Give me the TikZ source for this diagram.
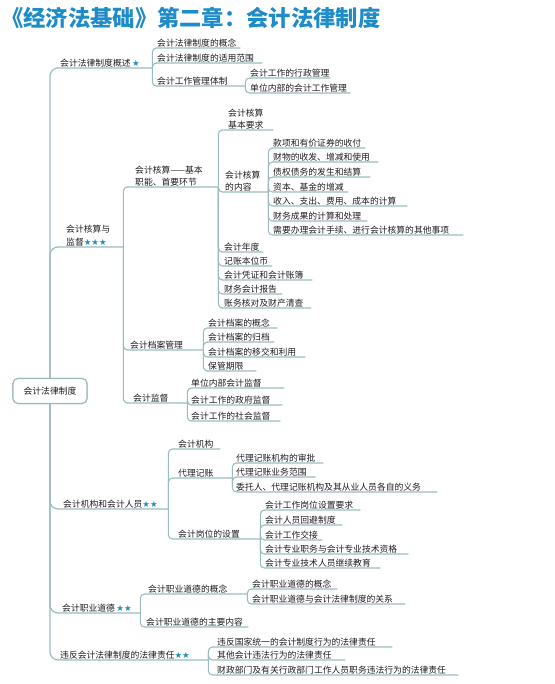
\documentclass[tikz,border=0pt]{standalone}
\usepackage{fontspec}
\setmainfont{Noto Sans CJK SC}
\newfontfamily\starfont{DejaVu Sans}
\definecolor{linec}{RGB}{155,188,190}
\definecolor{txtc}{RGB}{30,30,30}
\definecolor{starc}{RGB}{35,140,190}
\definecolor{titlec}{RGB}{30,140,200}
\newcommand\mystars[1]{{\starfont\fontsize{8.5}{8.5}\selectfont\color{starc}#1}}
\begin{document}
\begin{tikzpicture}[x=1pt,y=-1pt,
  lbl/.style={anchor=south west, inner xsep=0pt, inner ysep=1pt, align=left,
    font=\fontsize{8.8}{11.5}\selectfont, text=txtc},
  link/.style={draw=linec, line width=1.1pt, rounded corners=4pt},
  trunk/.style={draw=linec, line width=1.2pt, rounded corners=8pt},
  rootbox/.style={draw=linec, line width=1.1pt, rounded corners=5pt, fill=white,
    minimum width=74pt, minimum height=25pt, inner sep=0pt,
    font=\fontsize{8.8}{10}\selectfont, text=txtc},
  titlestyle/.style={anchor=west, inner sep=0pt, text=titlec,
    font=\fontsize{22.3}{24}\selectfont\bfseries}]
\fill[white] (0,0) rectangle (554,684);
\useasboundingbox (0,0) rectangle (554,684);

\node[titlestyle] (title) at (1,18) {《经济法基础》第二章：会计法律制度};

% level 1
\node[lbl, text width=92pt] (L1a) at (60,68) {会计法律制度概述\,\mystars{★}};
\node[lbl, text width=57pt, font=\fontsize{8.8}{12.5}\selectfont] (L1b) at (66,247) {会计核算与\\监督\mystars{★★★}};
\node[lbl, text width=105pt] (L1c) at (63,509) {会计机构和会计人员\mystars{★★}};
\node[lbl, text width=78pt] (L1d) at (62,613) {会计职业道德\,\mystars{★★}};
\node[lbl, text width=148pt] (L1e) at (60,660) {违反会计法律制度的法律责任\mystars{★★}};

% section A
\node[lbl, text width=83pt] (A1) at (157,48) {会计法律制度的概念};
\node[lbl, text width=105pt] (A2) at (157,63) {会计法律制度的适用范围};
\node[lbl, text width=88pt] (A3) at (157,86) {会计工作管理体制};
\node[lbl, text width=80pt] (A31) at (250,78) {会计工作的行政管理};
\node[lbl, text width=100pt] (A32) at (250,93) {单位内部的会计工作管理};

% section B
\node[lbl, text width=83pt] (B1) at (135,187) {会计核算——基本\\职能、首要环节};
\node[lbl, text width=45pt] (B11) at (228,130) {会计核算\\基本要求};
\node[lbl, text width=43pt] (B12) at (225,192) {会计核算\\的内容};
\node[lbl, text width=92pt] (B121) at (273,148) {款项和有价证券的收付};
\node[lbl, text width=105pt] (B122) at (273,162) {财物的收发、增减和使用};
\node[lbl, text width=97pt] (B123) at (273,177) {债权债务的发生和结算};
\node[lbl, text width=75pt] (B124) at (273,192) {资本、基金的增减};
\node[lbl, text width=134pt] (B125) at (273,206) {收入、支出、费用、成本的计算};
\node[lbl, text width=94pt] (B126) at (273,221) {财务成果的计算和处理};
\node[lbl, text width=190pt] (B127) at (273,235) {需要办理会计手续、进行会计核算的其他事项};
\node[lbl, text width=39pt] (B13) at (224,252) {会计年度};
\node[lbl, text width=48pt] (B14) at (224,266) {记账本位币};
\node[lbl, text width=88pt] (B15) at (224,280) {会计凭证和会计账簿};
\node[lbl, text width=58pt] (B16) at (224,294) {财务会计报告};
\node[lbl, text width=87pt] (B17) at (224,308) {账务核对及财产清查};

\node[lbl, text width=73pt] (B2) at (130,350) {会计档案管理};
\node[lbl, text width=69pt] (B21) at (208,328) {会计档案的概念};
\node[lbl, text width=66pt] (B22) at (208,342) {会计档案的归档};
\node[lbl, text width=97pt] (B23) at (208,357) {会计档案的移交和利用};
\node[lbl, text width=48pt] (B24) at (208,371) {保管期限};

\node[lbl, text width=54pt] (B3) at (133,403) {会计监督};
\node[lbl, text width=93pt] (B31) at (191,388) {单位内部会计监督};
\node[lbl, text width=91pt] (B32) at (191,405) {会计工作的政府监督};
\node[lbl, text width=89pt] (B33) at (191,421) {会计工作的社会监督};

% section C
\node[lbl, text width=42pt] (C1) at (178,449) {会计机构};
\node[lbl, text width=54pt] (C2) at (178,478) {代理记账};
\node[lbl, text width=87pt] (C21) at (236,463) {代理记账机构的审批};
\node[lbl, text width=79pt] (C22) at (236,477) {代理记账业务范围};
\node[lbl, text width=201pt] (C23) at (236,492) {委托人、代理记账机构及其从业人员各自的义务};
\node[lbl, text width=82pt] (C3) at (178,539) {会计岗位的设置};
\node[lbl, text width=95pt] (C31) at (265,510) {会计工作岗位设置要求};
\node[lbl, text width=77pt] (C32) at (265,525) {会计人员回避制度};
\node[lbl, text width=57pt] (C33) at (265,540) {会计工作交接};
\node[lbl, text width=143pt] (C34) at (265,554) {会计专业职务与会计专业技术资格};
\node[lbl, text width=115pt] (C35) at (265,568) {会计专业技术人员继续教育};

% section D
\node[lbl, text width=99pt] (D1) at (148,594) {会计职业道德的概念};
\node[lbl, text width=85pt] (D11) at (252,589) {会计职业道德的概念};
\node[lbl, text width=153pt] (D12) at (252,604) {会计职业道德与会计法律制度的关系};
\node[lbl, text width=102pt] (D2) at (146,627) {会计职业道德的主要内容};

% section E
\node[lbl, text width=175pt] (E1) at (217,647) {违反国家统一的会计制度行为的法律责任};
\node[lbl, text width=128pt] (E2) at (217,660) {其他会计违法行为的法律责任};
\node[lbl, text width=241pt] (E3) at (217,675) {财政部门及有关行政部门工作人员职务违法行为的法律责任};

% root
\node[rootbox] (root) at (50,391) {会计法律制度};

% trunk connectors
\path[trunk] (root.north) |- (L1a.south east);
\path[trunk] (root.north) |- (L1b.south east);
\path[trunk] (root.south) |- (L1c.south east);
\path[trunk] (root.south) |- (L1d.south east);
\path[trunk] (root.south) |- (L1e.south east);

% branch connectors
\foreach \p/\c in {L1a/A1, L1a/A2, L1a/A3, A3/A31, A3/A32,
  L1b/B1, L1b/B2, L1b/B3,
  B1/B11, B1/B12, B1/B13, B1/B14, B1/B15, B1/B16, B1/B17,
  B12/B121, B12/B122, B12/B123, B12/B124, B12/B125, B12/B126, B12/B127,
  B2/B21, B2/B22, B2/B23, B2/B24,
  B3/B31, B3/B32, B3/B33,
  L1c/C1, L1c/C2, L1c/C3, C2/C21, C2/C22, C2/C23,
  C3/C31, C3/C32, C3/C33, C3/C34, C3/C35,
  L1d/D1, L1d/D2, D1/D11, D1/D12,
  L1e/E1, L1e/E2, L1e/E3}
  {\path[link] (\p.south east) |- (\c.south east);}

% redraw root on top
\node[rootbox] at (root) {会计法律制度};
\end{tikzpicture}
\end{document}
